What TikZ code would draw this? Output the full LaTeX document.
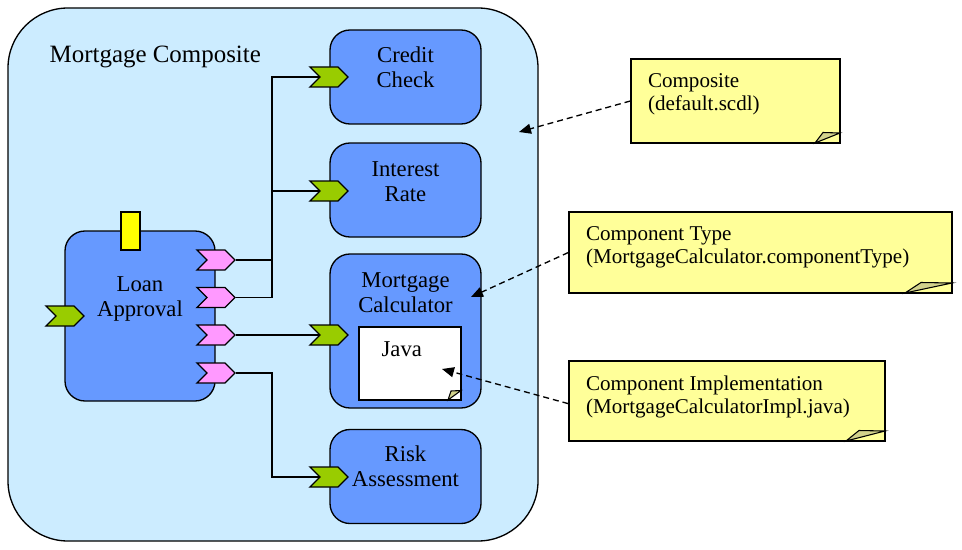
\documentclass[tikz,border=0pt]{standalone}
\usepackage{fontspec}
\newfontfamily\diagramfont{Liberation Serif}
\usetikzlibrary{shapes.symbols,shapes.misc,arrows.meta,positioning}

\definecolor{compositeblue}{RGB}{204,236,255}
\definecolor{componentblue}{RGB}{102,153,255}
\definecolor{servicegreen}{RGB}{153,204,0}
\definecolor{referencepink}{RGB}{255,153,255}
\definecolor{propertyyellow}{RGB}{255,255,0}
\definecolor{noteyellow}{RGB}{255,255,153}
\definecolor{notefold}{RGB}{210,210,140}

\begin{document}
\begin{tikzpicture}[x=0.75pt, y=-0.75pt, line width=1pt,
    composite/.style={rectangle, rounded corners=45pt, draw, fill=compositeblue, minimum width=397.5pt, minimum height=399.75pt},
    component/.style={rectangle, rounded corners=15pt, draw, fill=componentblue, minimum width=113.25pt, minimum height=70.5pt},
    boxtext/.style={align=center, inner sep=0pt, font=\fontsize{17}{18.75}\selectfont\diagramfont},
    titletext/.style={inner sep=0pt, font=\fontsize{18.7}{21}\selectfont\diagramfont},
    service/.style={signal, signal to=east, signal from=west, draw, fill=servicegreen, minimum width=28.5pt, minimum height=15pt, inner sep=0pt},
    reference/.style={service, fill=referencepink},
    property/.style={rectangle, draw, fill=propertyyellow, minimum width=14.25pt, minimum height=28.5pt, inner sep=0pt},
    note/.style={chamfered rectangle, chamfered rectangle corners=south east, chamfered rectangle ysep=7.5pt, draw, fill=noteyellow, inner sep=0pt},
    notetext/.style={align=left, inner sep=0pt, font=\fontsize{15.8}{17.25}\selectfont\diagramfont},
    fold/.style={draw, fill=notefold, line width=0.8pt},
    comment/.style={dashed, dash pattern=on 4.5pt off 3pt, -{Triangle[length=9pt, width=7.5pt]}}]

    \useasboundingbox (0,0) rectangle (962,549);

    % composite and its components
    \node[composite] (comp) at (273,274.5) {};
    \node[titletext, anchor=base west] (comp-title) at (49,63) {Mortgage Composite};

    \node[component] (credit) at (405.5,77) {};
    \node[component] (rate) at (405.5,190) {};
    \node[component, minimum height=115.5pt] (calc) at (405.5,331) {};
    \node[component] (risk) at (405.5,476.5) {};
    \node[component, minimum width=112.5pt, minimum height=127.5pt] (loan) at (140,316) {};

    \node[boxtext, below=12.5pt of credit.north] (credit-txt) {Credit\\Check};
    \node[boxtext, below=14pt of rate.north] (rate-txt) {Interest\\Rate};
    \node[boxtext, below=14pt of calc.north] (calc-txt) {Mortgage\\Calculator};
    \node[boxtext, below=12.5pt of risk.north] (risk-txt) {Risk\\Assessment};
    \node[boxtext, below=34.5pt of loan.north] (loan-txt) {Loan\\Approval};

    % implementation inside the calculator
    \node[note, fill=white, minimum width=76.5pt, minimum height=54.75pt, chamfered rectangle xsep=12.75pt] (java) at (410,363.5) {};
    \draw[fold] (448,400) -- (461,390.5) -- (451,391) -- cycle;
    \node[boxtext, below right=11.25pt and 17pt of java.north west] (java-txt) {Java};

    % services, references and property
    \node[service] (loan-in) at (65,316) {};
    \node[property] (loan-prop) at (130.5,231) {};
    \node[reference] (ref-credit) at (216,260) {};
    \node[reference] (ref-rate) at (216,297.5) {};
    \node[reference] (ref-calc) at (216,335) {};
    \node[reference] (ref-risk) at (216,373) {};

    \node[service] (credit-in) at (329,77) {};
    \node[service] (rate-in) at (329,191) {};
    \node[service] (calc-in) at (329,335) {};
    \node[service] (risk-in) at (329,477) {};

    % wires
    \coordinate (bus) at (272,0);
    \draw (ref-credit.east) -| (bus |- credit-in) -- (credit-in.west);
    \draw (ref-rate.east) -| (bus |- rate-in) -- (rate-in.west);
    \draw (ref-calc.east) -- (calc-in.west);
    \draw (ref-risk.east) -| (bus |- risk-in) -- (risk-in.west);

    % notes
    \node[note, minimum width=156.75pt, minimum height=63pt, chamfered rectangle xsep=18.75pt] (cnote) at (735.5,101) {};
    \draw[fold] (815,143) -- (840,133) -- (823,132.5) -- cycle;
    \node[notetext, below right=11pt and 12.75pt of cnote.north west] {Composite\\(default.scdl)};

    \node[note, minimum width=287.25pt, minimum height=60.75pt, chamfered rectangle xsep=36pt] (tnote) at (760.5,252.5) {};
    \draw[fold] (905,293) -- (952,283) -- (921,282.5) -- cycle;
    \node[notetext, below right=11pt and 12.75pt of tnote.north west] {Component Type\\(MortgageCalculator.componentType)};

    \node[note, minimum width=237pt, minimum height=60pt, chamfered rectangle xsep=29.25pt] (inote) at (727,401) {};
    \draw[fold] (846,441) -- (885,431) -- (859,430.5) -- cycle;
    \node[notetext, below right=11pt and 12.75pt of inote.north west] {Component Implementation\\(MortgageCalculatorImpl.java)};

    % comment arrows
    \coordinate (comp-hit) at (519,132);
    \coordinate (calc-hit) at (471,297);
    \coordinate (java-hit) at (442,369);
    \draw[comment] (cnote.west) -- (comp-hit);
    \draw[comment] (tnote.west) -- (calc-hit);
    \draw[comment] ([yshift=-2pt]inote.west) -- (java-hit);
\end{tikzpicture}
\end{document}
